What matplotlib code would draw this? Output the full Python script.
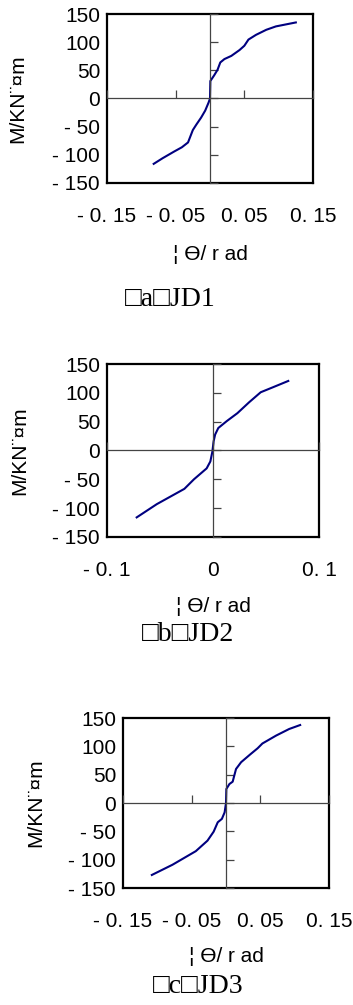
import matplotlib
matplotlib.use("Agg")
import matplotlib.pyplot as plt

# JD1 moment-rotation curve
theta_jd1 = [-0.082, -0.069, -0.052, -0.041, -0.032, -0.025, -0.020, -0.013, -0.007, -0.002, 0.0,
             0.0005, 0.006, 0.011, 0.015, 0.021, 0.031, 0.043, 0.050, 0.056, 0.067, 0.082, 0.096, 0.125]
moment_jd1 = [-116, -106, -94, -86.6, -78, -56, -46.5, -34, -21.5, -7, 0,
              31, 41, 51, 64, 70, 75.6, 86, 93.6, 104.6, 113, 122, 128, 135]

# JD2
theta_jd2 = [-0.072, -0.053, -0.027, -0.018, -0.006, -0.0025, -0.0006, 0.0006, 0.002, 0.005,
             0.013, 0.023, 0.034, 0.045, 0.057, 0.071]
moment_jd2 = [-116, -93, -66.5, -50, -31, -19, -2, 16, 27.6, 39,
              51, 64.7, 83.5, 101, 110, 120.6]

# JD3
theta_jd3 = [-0.108, -0.078, -0.044, -0.027, -0.018, -0.012, -0.006, -0.002, 0.0, 0.0005, 0.005,
             0.0097, 0.0146, 0.022, 0.036, 0.046, 0.053, 0.073, 0.092, 0.108]
moment_jd3 = [-127, -109, -85, -66.5, -50.6, -34, -28, -16.5, 0, 24.7, 33.5,
              37.6, 60, 72, 86.5, 96.5, 105, 119, 130.6, 137.6]

y_ticks = [-150, -100, -50, 0, 50, 100, 150]
y_labels = ["- 150", "- 100", "- 50", "0", "50", "100", "150"]
x_ticks_wide = [-0.15, -0.05, 0.05, 0.15]
x_labels_wide = ["- 0. 15", "- 0. 05", "0. 05", "0. 15"]
x_ticks_narrow = [-0.1, 0, 0.1]
x_labels_narrow = ["- 0. 1", "0", "0. 1"]

captions = ["\u25a1a\u25a1JD1", "\u25a1b\u25a1JD2", "\u25a1c\u25a1JD3"]
ylabel = "M/KN\u00a8\u00a4m"
xlabel = "\u00a6 \u04e8/ r ad"

W, H = 353, 1005
fig = plt.figure(figsize=(W / 100, H / 100), dpi=100)
sans = ["Liberation Sans", "DejaVu Sans"]
serif = ["Liberation Serif", "DejaVu Serif"]
fs = 15

# panel layout in pixels
panels = [
    dict(box=(107, 14, 313, 183), theta=theta_jd1, m=moment_jd1, xt=x_ticks_wide, xl=x_labels_wide,
         xlim=(-0.15, 0.15), xlab=(210, 254), cap=(170, 300), ylab_x=27),
    dict(box=(107, 364, 319, 537), theta=theta_jd2, m=moment_jd2, xt=x_ticks_narrow, xl=x_labels_narrow,
         xlim=(-0.1, 0.1), xlab=(213, 607), cap=(188, 634), ylab_x=29),
    dict(box=(123, 718, 329, 888), theta=theta_jd3, m=moment_jd3, xt=x_ticks_wide, xl=x_labels_wide,
         xlim=(-0.15, 0.15), xlab=(226, 957), cap=(198, 986), ylab_x=45),
]

for i, p in enumerate(panels):
    l, t, r, b = p["box"]
    rect = [l / W, 1 - b / H, (r - l) / W, (b - t) / H]
    ax = fig.add_axes(rect)
    ax.set_xlim(*p["xlim"])
    ax.set_ylim(-150, 150)
    ax.set_xticks(p["xt"])
    ax.set_xticklabels(p["xl"], family=sans, fontsize=fs)
    ax.set_yticks(y_ticks)
    ax.set_yticklabels(y_labels, family=sans, fontsize=fs)
    ax.tick_params(axis="x", length=0, pad=17)
    ax.tick_params(axis="y", length=0, pad=5)
    for s in ax.spines.values():
        s.set_linewidth(1.6)
        s.set_color("black")
    ax.set_ylabel(ylabel, family=sans, fontsize=fs)
    ax.yaxis.set_label_coords((p["ylab_x"] - l) / (r - l), 0.5)

    # inner crossing axes with tick marks
    ax_in = fig.add_axes(rect, sharex=ax, sharey=ax)
    ax_in.patch.set_visible(False)
    ax_in.spines["top"].set_visible(False)
    ax_in.spines["right"].set_visible(False)
    ax_in.spines["left"].set_position(("data", 0))
    ax_in.spines["bottom"].set_position(("data", 0))
    for s in ("left", "bottom"):
        ax_in.spines[s].set_color("#444444")
        ax_in.spines[s].set_linewidth(0.9)
    ax_in.tick_params(direction="in", length=6, width=0.9, color="#444444",
                      labelleft=False, labelbottom=False)

    ax_in.plot(p["theta"], p["m"], color="#000080", linewidth=1.5)

    fig.text(p["xlab"][0] / W, 1 - p["xlab"][1] / H, xlabel, family=sans, fontsize=fs,
             ha="center", va="center")
    fig.text(p["cap"][0] / W, 1 - p["cap"][1] / H, captions[i], family=serif, fontsize=20,
             ha="center", va="center")

fig.savefig("out.png", dpi=100)
